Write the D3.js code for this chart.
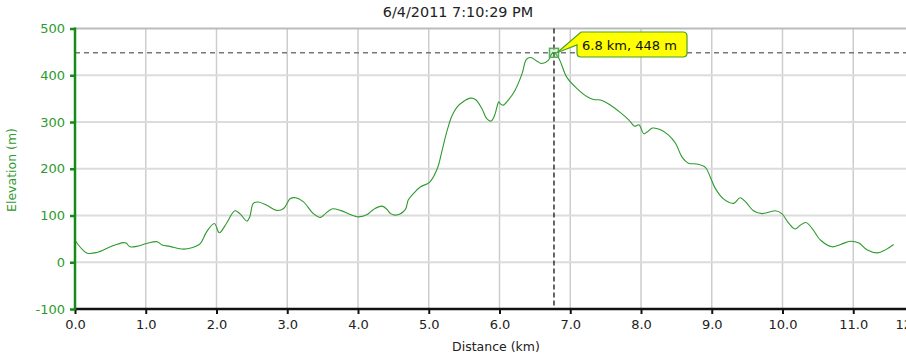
<!DOCTYPE html>
<html><head><meta charset="utf-8">
<script src="https://cdn.jsdelivr.net/npm/d3@7"></script>
<style>body{margin:0;background:#fff;}svg{display:block;}</style>
</head><body>
<svg id="c" width="906" height="360"></svg>
<script>
const title = "6/4/2011 7:10:29 PM";
const xLabel = "Distance (km)";
const yLabel = "Elevation (m)";
const xTicks = [0,1,2,3,4,5,6,7,8,9,10,11,12];
const yTicks = [-100,0,100,200,300,400,500];
const distance = [0.0,0.165,0.31,0.5,0.68,0.72,0.78,0.87,1.01,1.16,1.23,1.34,1.53,1.65,1.77,1.86,1.97,2.04,2.14,2.26,2.33,2.43,2.47,2.52,2.59,2.71,2.85,2.95,3.04,3.12,3.23,3.37,3.47,3.54,3.63,3.75,3.89,4.01,4.13,4.22,4.34,4.41,4.46,4.55,4.67,4.71,4.79,4.88,5.01,5.12,5.19,5.26,5.33,5.40,5.49,5.59,5.66,5.75,5.82,5.88,5.93,5.99,6.01,6.05,6.13,6.22,6.32,6.38,6.44,6.53,6.60,6.69,6.74,6.77,6.84,6.95,7.10,7.24,7.33,7.43,7.57,7.71,7.83,7.91,7.97,8.04,8.09,8.16,8.27,8.39,8.49,8.58,8.67,8.79,8.91,8.98,9.05,9.17,9.31,9.40,9.48,9.59,9.71,9.83,9.90,9.99,10.09,10.18,10.25,10.33,10.42,10.54,10.70,10.82,10.96,11.08,11.20,11.34,11.46,11.57];
const elevation = [47,20,21,33,42,41,33,34,40,44,37,34,28,31,40,65,83,63,83,110,104,88,97,126,129,122,111,115,136,138,129,104,96,104,114,111,102,97,102,113,120,113,104,101,113,133,148,161,171,200,240,282,314,332,344,351,348,329,307,302,314,343,339,336,348,368,404,434,438,430,425,432,446,448,436,396,371,354,348,347,336,320,304,291,294,275,279,287,284,272,254,225,212,210,203,182,158,135,126,138,129,110,104,108,110,104,83,71,79,85,72,47,33,38,45,41,26,20,27,38];
const cursorKm = 6.77, cursorM = 448;
const cursorText = "6.8 km, 448 m";

const svg = d3.select("#c");
const font = "DejaVu Sans, Verdana, sans-serif";
const L = 75, T = 28.5, B = 309, R = 906;
const x = d3.scaleLinear().domain([0,12]).range([L, 924]);
const y = d3.scaleLinear().domain([-100,500]).range([B, T]);

// grid
svg.append("g").selectAll("line").data(xTicks.filter(d=>d>0)).join("line")
  .attr("x1",d=>x(d)).attr("x2",d=>x(d)).attr("y1",T).attr("y2",B)
  .attr("stroke","#cdcdcd").attr("stroke-width",1.5);
svg.append("g").selectAll("line").data(yTicks.filter(d=>d>-100)).join("line")
  .attr("x1",L).attr("x2",R).attr("y1",d=>y(d)).attr("y2",d=>y(d))
  .attr("stroke",d=>d===500?"#bbbbbb":"#dcdcdc").attr("stroke-width",2);

// crosshair
svg.append("line").attr("x1",L).attr("x2",R).attr("y1",y(cursorM)).attr("y2",y(cursorM))
  .attr("stroke","#777").attr("stroke-width",1.5).attr("stroke-dasharray","5,4");
svg.append("line").attr("x1",x(cursorKm)).attr("x2",x(cursorKm)).attr("y1",T).attr("y2",B)
  .attr("stroke","#000").attr("stroke-width",1.2).attr("stroke-dasharray","5,3");

// line
const line = d3.line().x((d,i)=>x(distance[i])).y(d=>y(d)).curve(d3.curveCatmullRom.alpha(0.5));
svg.append("path").datum(elevation).attr("d",line).attr("fill","none")
  .attr("stroke","#2e9a2e").attr("stroke-width",1.1);

// x axis
const xa = svg.append("g").attr("transform",`translate(0,${B})`)
  .call(d3.axisBottom(x).tickValues(xTicks).tickFormat(d3.format(".1f")).tickSize(5).tickPadding(6));
xa.select(".domain").attr("stroke","#111").attr("stroke-width",2.5).attr("d",`M${L},0H${R}`);
xa.selectAll(".tick line").attr("stroke","#111").attr("stroke-width",2);
xa.selectAll("text").attr("font-family",font).attr("font-size",13).attr("fill","#222");
// last label pushed inside as in the reference (clipped at the edge)
xa.selectAll(".tick").filter(d=>d===12).select("text").attr("text-anchor","start").attr("x",-29);

// y axis
const ya = svg.append("g").attr("transform",`translate(${L},0)`)
  .call(d3.axisLeft(y).tickValues(yTicks).tickFormat(d=>String(d)).tickSize(5).tickPadding(5));
ya.select(".domain").attr("stroke","#168a16").attr("stroke-width",2.5).attr("d",`M0,${T-1}V${B+1}`);
ya.selectAll(".tick line").attr("stroke","#168a16").attr("stroke-width",2.5);
ya.selectAll("text").attr("font-family",font).attr("font-size",13).attr("fill","#2e9a2e");

// titles
svg.append("text").attr("x",458).attr("y",17).attr("text-anchor","middle")
  .attr("font-family",font).attr("font-size",14.4).attr("fill","#222").text(title);
svg.append("text").attr("x",496).attr("y",351).attr("text-anchor","middle")
  .attr("font-family",font).attr("font-size",12.5).attr("fill","#222").text(xLabel);
svg.append("text").attr("transform","translate(16,170) rotate(-90)").attr("text-anchor","middle")
  .attr("font-family",font).attr("font-size",12.5).attr("fill","#2e9a2e").text(yLabel);

// marker
const mx = x(cursorKm), my = y(cursorM);
svg.append("rect").attr("x",mx-4.5).attr("y",my-4.5).attr("width",9).attr("height",9)
  .attr("fill","rgba(120,200,120,0.25)").attr("stroke","#5aae5a").attr("stroke-width",1.5);

// tooltip
const bx = 577, by = 32, bw = 110, bh = 25, r = 4;
const tip = `M${bx+r},${by} H${bx+bw-r} Q${bx+bw},${by} ${bx+bw},${by+r} V${by+bh-r} Q${bx+bw},${by+bh} ${bx+bw-r},${by+bh} H${bx+r} Q${bx},${by+bh} ${bx},${by+bh-r} V${by+13} L${mx+3},${my} L${bx+4},${by} Z`;
svg.append("path").attr("d",tip).attr("fill","#ffff00").attr("stroke","#4aa02a").attr("stroke-width",1.2);
svg.append("text").attr("x",bx+5).attr("y",by+17.5).attr("font-family",font).attr("font-size",13)
  .attr("fill","#111").text(cursorText);
</script>
</body></html>
